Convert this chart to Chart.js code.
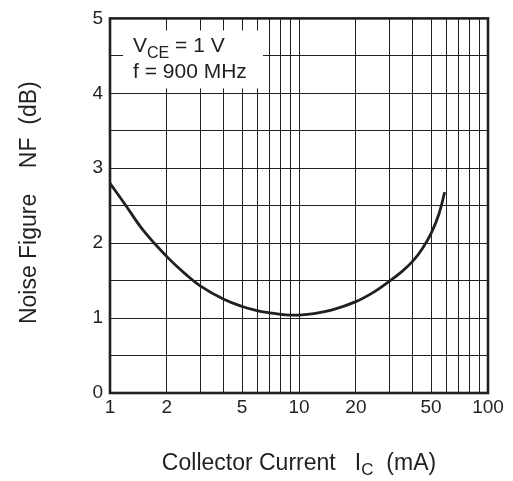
<!DOCTYPE html>
<html>
<head>
<meta charset="utf-8">
<script src="https://cdn.jsdelivr.net/npm/chart.js@4/dist/chart.umd.min.js"></script>
<style>
  html, body { margin: 0; padding: 0; background: #fff; }
  #wrap { position: relative; width: 513px; height: 481px; }
</style>
</head>
<body>
<div id="wrap"><canvas id="c" width="513" height="481"></canvas></div>
<script>
// ---- data ----
const currentMA = [1, 1.2, 1.5, 2, 2.5, 3, 4, 5, 6, 7, 8, 9, 10, 12, 15, 20, 25, 30, 35, 40, 45, 50, 55, 59];
const noiseFigureDB = [2.80, 2.52, 2.17, 1.82, 1.59, 1.43, 1.25, 1.155, 1.10, 1.07, 1.05, 1.04, 1.04, 1.06, 1.11, 1.22, 1.35, 1.49, 1.62, 1.76, 1.93, 2.13, 2.39, 2.68];
const xGridValues = [1, 2, 3, 4, 5, 6, 7, 8, 9, 10, 20, 30, 40, 50, 60, 70, 80, 90, 100];
const xTickLabels = [1, 2, 5, 10, 20, 50, 100];
const yTickLabels = [0, 1, 2, 3, 4, 5];
const conditionLines = ["V_CE = 1 V", "f = 900 MHz"];

const INK = '#231f20';
const FONT = "'Liberation Sans', Arial, Helvetica, sans-serif";

const overlay = {
  id: 'overlay',
  beforeDatasetsDraw(chart) {
    const { ctx, chartArea: a } = chart;
    // white box behind the condition text (covers grid lines)
    ctx.save();
    ctx.fillStyle = '#fff';
    ctx.fillRect(a.left + 13, a.top + 12, 140, 58);
    ctx.restore();
  },
  afterDraw(chart) {
    const { ctx, chartArea: a } = chart;
    ctx.save();
    // frame
    ctx.strokeStyle = INK;
    ctx.lineWidth = 2.6;
    ctx.strokeRect(a.left, a.top, a.right - a.left, a.bottom - a.top);

    ctx.fillStyle = INK;
    ctx.textBaseline = 'alphabetic';
    ctx.textAlign = 'left';
    // condition text
    let x = a.left + 23;
    ctx.font = `21px ${FONT}`;
    ctx.fillText('V', x, a.top + 34);
    x += ctx.measureText('V').width;
    ctx.font = `16px ${FONT}`;
    ctx.fillText('CE', x, a.top + 40);
    x += ctx.measureText('CE').width;
    ctx.font = `21px ${FONT}`;
    ctx.fillText(' = 1 V', x, a.top + 34);
    ctx.fillText(conditionLines[1], a.left + 23, a.top + 60);

    // x-axis title with subscript
    const cx = (a.left + a.right) / 2;
    ctx.font = `23px ${FONT}`;
    const p1 = 'Collector Current   I';
    const p3 = '  (mA)';
    const w1 = ctx.measureText(p1).width;
    const w3 = ctx.measureText(p3).width;
    ctx.font = `17px ${FONT}`;
    const w2 = ctx.measureText('C').width;
    let sx = cx - (w1 + w2 + w3) / 2;
    const by = 470;
    ctx.font = `23px ${FONT}`;
    ctx.fillText(p1, sx, by);
    ctx.font = `17px ${FONT}`;
    ctx.fillText('C', sx + w1, by + 5);
    ctx.font = `23px ${FONT}`;
    ctx.fillText(p3, sx + w1 + w2, by);

    // y-axis title (rotated)
    ctx.translate(36, (a.top + a.bottom) / 2 - 3);
    ctx.rotate(-Math.PI / 2);
    ctx.textAlign = 'center';
    ctx.font = `23px ${FONT}`;
    ctx.fillText('Noise Figure    NF  (dB)', 0, 0);
    ctx.restore();
  }
};

new Chart(document.getElementById('c'), {
  type: 'line',
  data: {
    datasets: [{
      data: currentMA.map((x, i) => ({ x, y: noiseFigureDB[i] })),
      borderColor: INK,
      borderWidth: 2.8,
      pointRadius: 0,
      fill: false,
      tension: 0.4
    }]
  },
  options: {
    responsive: false,
    animation: false,
    events: [],
    layout: { padding: { top: 15, right: 25, left: 0, bottom: 0 } },
    plugins: { legend: { display: false }, tooltip: { enabled: false }, title: { display: false } },
    scales: {
      x: {
        type: 'logarithmic',
        min: 1, max: 100,
        afterBuildTicks(scale) { scale.ticks = xGridValues.map(v => ({ value: v })); },
        afterFit(scale) { scale.height = 88; },
        ticks: {
          autoSkip: false, maxRotation: 0, minRotation: 0,
          color: INK, padding: 3,
          font: { family: FONT, size: 19 },
          callback: (v) => xTickLabels.includes(v) ? String(v) : ''
        },
        grid: { color: INK, lineWidth: 1, drawTicks: false },
        border: { display: false }
      },
      y: {
        type: 'linear',
        min: 0, max: 5,
        afterFit(scale) { scale.width = 110; },
        ticks: {
          stepSize: 0.5, color: INK, padding: 7,
          font: { family: FONT, size: 19 },
          callback: (v) => yTickLabels.includes(v) ? String(v) : ''
        },
        grid: { color: INK, lineWidth: 1, drawTicks: false },
        border: { display: false }
      }
    }
  },
  plugins: [overlay]
});
</script>
</body>
</html>
